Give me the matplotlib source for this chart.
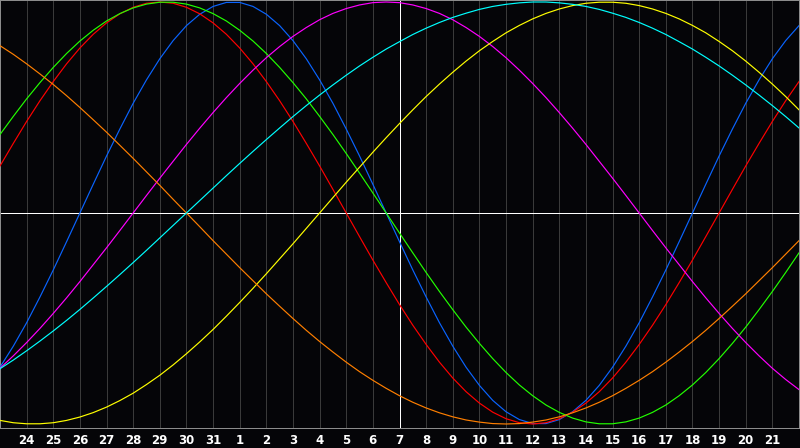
import numpy as np
import matplotlib
matplotlib.use("Agg")
import matplotlib.pyplot as plt

# day labels under the grid lines (index 1..29), today = index 15
day_labels = [24, 25, 26, 27, 28, 29, 30, 31, 1, 2, 3, 4, 5, 6, 7,
              8, 9, 10, 11, 12, 13, 14, 15, 16, 17, 18, 19, 20, 21]
today = 15

# curve values (x1000), every half day from index 0 to 30
physical = [-731, -631, -520, -398, -270, -136, 0, 136, 270, 398, 520, 631, 731, 817, 888, 942,
            979, 998, 998, 979, 942, 888, 817, 731, 631, 520, 398, 270, 136, 0, -136, -270,
            -398, -520, -631, -731, -817, -888, -942, -979, -998, -998, -979, -942, -888, -817, -731, -631,
            -520, -398, -270, -136, 0, 136, 270, 398, 520, 631, 731, 817, 888]
emotional = [223, 330, 434, 532, 623, 707, 782, 847, 901, 944, 975, 994, 1000, 994, 975, 944,
             901, 847, 782, 707, 623, 532, 434, 330, 223, 112, 0, -112, -223, -330, -434, -532,
             -623, -707, -782, -847, -901, -944, -975, -994, -1000, -994, -975, -944, -901, -847, -782, -707,
             -623, -532, -434, -330, -223, -112, 0, 112, 223, 330, 434, 532, 623]
intellectual = [372, 458, 541, 618, 690, 756, 815, 866, 910, 945, 972, 990, 999, 999, 990, 972,
                945, 910, 866, 815, 756, 690, 618, 541, 458, 372, 282, 189, 95, 0, -95, -189,
                -282, -372, -458, -541, -618, -690, -756, -815, -866, -910, -945, -972, -990, -999, -999, -990,
                -972, -945, -910, -866, -815, -756, -690, -618, -541, -458, -372, -282, -189]
intuitive = [-736, -677, -614, -547, -476, -402, -325, -245, -165, -83, 0, 83, 165, 245, 325, 402,
             476, 547, 614, 677, 736, 789, 837, 879, 916, 946, 969, 986, 997, 1000, 997, 986,
             969, 946, 916, 879, 837, 789, 736, 677, 614, 547, 476, 402, 325, 245, 165, 83,
             0, -83, -165, -245, -325, -402, -476, -547, -614, -677, -736, -789, -837]
aesthetic = [-983, -994, -999, -999, -994, -983, -967, -946, -920, -889, -854, -813, -769, -720, -667, -611,
             -552, -489, -424, -357, -288, -217, -146, -73, 0, 73, 146, 217, 288, 357, 424, 489,
             552, 611, 667, 720, 769, 813, 854, 889, 920, 946, 967, 983, 994, 999, 999, 994,
             983, 967, 946, 920, 889, 854, 813, 769, 720, 667, 611, 552, 489]
awareness = [793, 752, 707, 659, 609, 556, 500, 442, 383, 321, 259, 195, 131, 65, 0, -65,
             -131, -195, -259, -321, -383, -442, -500, -556, -609, -659, -707, -752, -793, -831, -866, -897,
             -924, -947, -966, -981, -991, -998, -1000, -998, -991, -981, -966, -947, -924, -897, -866, -831,
             -793, -752, -707, -659, -609, -556, -500, -442, -383, -321, -259, -195, -131]
spiritual = [-738, -697, -653, -607, -559, -509, -457, -403, -348, -292, -235, -177, -118, -59, 0, 59,
             118, 177, 235, 292, 348, 403, 457, 509, 559, 607, 653, 697, 738, 777, 812, 846,
             876, 903, 927, 947, 965, 979, 989, 996, 1000, 1000, 996, 989, 979, 965, 947, 927,
             903, 876, 846, 812, 777, 738, 697, 653, 607, 559, 509, 457, 403]

bg = '#050508'
px = 0.72  # one pixel at 100 dpi
fig = plt.figure(figsize=(8, 4.48), dpi=100, facecolor=bg)
ax = fig.add_axes([0, 20 / 448, 799 / 800, 428 / 448], facecolor=bg)

t = np.arange(len(physical)) / 2
curves = [
    (physical, '#0a64ff'),
    (emotional, '#ff0000'),
    (intellectual, '#22ff00'),
    (intuitive, '#ff00ff'),
    (aesthetic, '#ffff00'),
    (awareness, '#ff7f00'),
    (spiritual, '#00ffff'),
]

ax.axhline(0, color='white', lw=px, zorder=2, antialiased=False)
ax.axvline(today, color='white', lw=px, zorder=2, antialiased=False)
for vals, col in curves:
    ax.plot(t, np.array(vals) / 1000, color=col, lw=0.85, zorder=3)

ax.set_xlim(0, 30)
ax.set_ylim(-1.019, 1.0095)
ax.set_xticks(range(1, 30))
ax.set_xticklabels([str(d) for d in day_labels])
ax.set_yticks([])
ax.tick_params(axis='x', length=0, pad=4, colors='white', labelsize=8.5)
for lab in ax.get_xticklabels():
    lab.set_fontweight('bold')
ax.grid(axis='x', color='#3a3a3a', lw=px, zorder=1, antialiased=False)
ax.set_axisbelow(True)
for s in ax.spines.values():
    s.set_color('#8c8c8c')
    s.set_linewidth(px)

fig.savefig('out.png', dpi=100, facecolor=bg)
